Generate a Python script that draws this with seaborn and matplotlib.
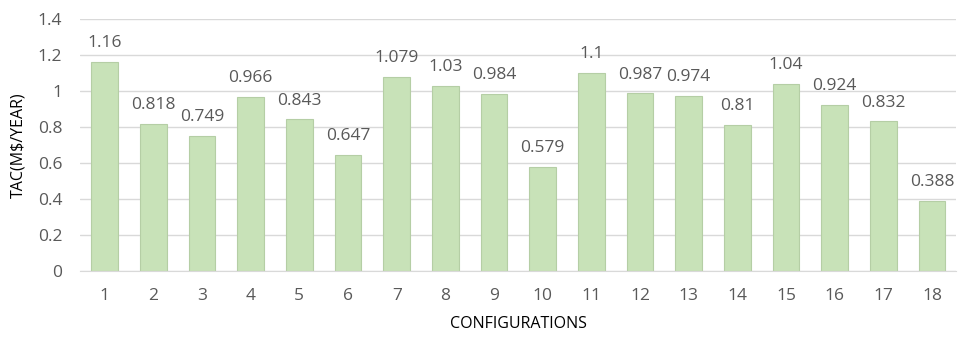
import matplotlib
matplotlib.use("Agg")
import matplotlib.pyplot as plt
import seaborn as sns
import pandas as pd

configs = [str(i) for i in range(1, 19)]
tac = [1.16, 0.818, 0.749, 0.966, 0.843, 0.647, 1.079, 1.03, 0.984,
       0.579, 1.1, 0.987, 0.974, 0.81, 1.04, 0.924, 0.832, 0.388]
value_labels = ["1.16", "0.818", "0.749", "0.966", "0.843", "0.647", "1.079", "1.03", "0.984",
                "0.579", "1.1", "0.987", "0.974", "0.81", "1.04", "0.924", "0.832", "0.388"]

df = pd.DataFrame({"config": configs, "tac": tac})

sns.set_style("white")
plt.rcParams["font.family"] = ["Open Sans", "DejaVu Sans"]
grey = "#595959"

fig = plt.figure(figsize=(9.68, 3.39), dpi=100)
ax = fig.add_axes([0.083, 0.2, 0.905, 0.744])

sns.barplot(data=df, x="config", y="tac", color="#c8e2b8", edgecolor="#b5cea5",
            linewidth=0.8, width=0.55, saturation=1, ax=ax)

ax.set_ylim(0, 1.4)
ax.set_yticks([0, 0.2, 0.4, 0.6, 0.8, 1, 1.2, 1.4])
ax.set_yticklabels(["0", "0.2", "0.4", "0.6", "0.8", "1", "1.2", "1.4"])
ax.yaxis.grid(True, color="#d9d9d9", linewidth=1)
ax.set_axisbelow(True)
for s in ["top", "right", "left"]:
    ax.spines[s].set_visible(False)
ax.spines["bottom"].set_color("#d9d9d9")
ax.tick_params(axis="both", length=0, labelsize=12.5, colors=grey)
ax.tick_params(axis="y", pad=13)
ax.tick_params(axis="x", pad=12)

for i, (v, lab) in enumerate(zip(tac, value_labels)):
    ax.text(i, v + 0.06, lab, ha="center", va="bottom", fontsize=12.5, color=grey)

ax.set_xlabel("CONFIGURATIONS", fontsize=11.5, color="black", labelpad=9)
ax.set_ylabel("TAC(M$/YEAR)", fontsize=11.5, color="black", labelpad=8)

fig.savefig("out.png", dpi=100)
